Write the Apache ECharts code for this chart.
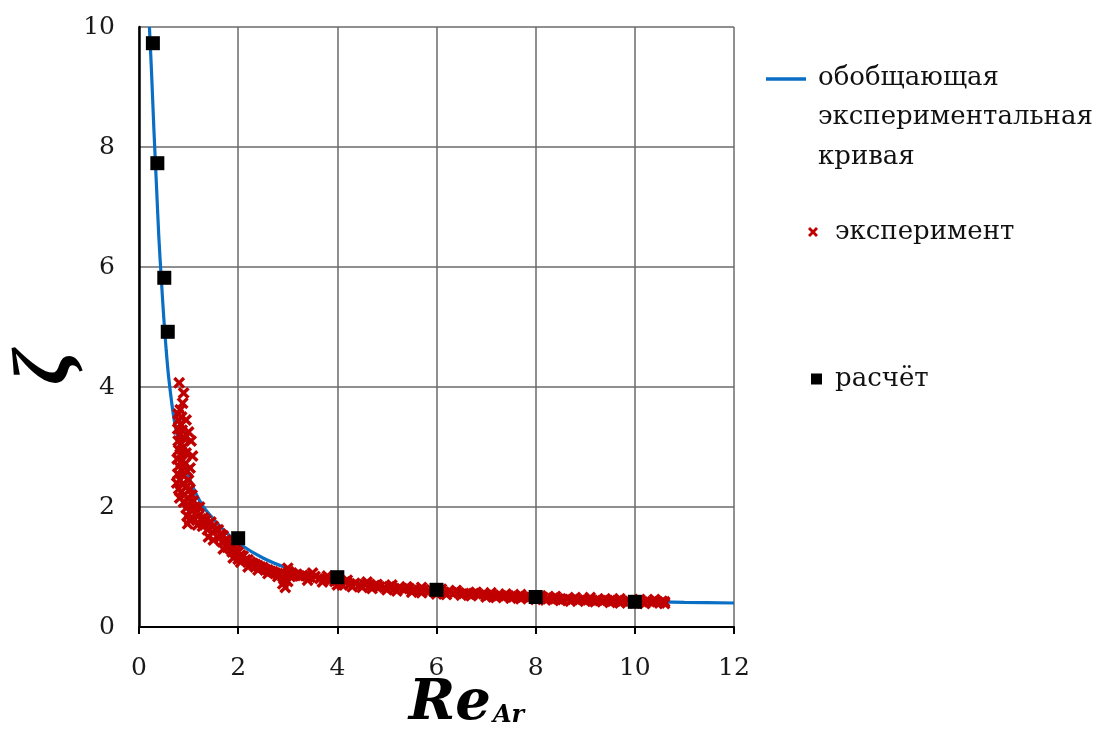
<!DOCTYPE html>
<html>
<head>
<meta charset="utf-8">
<script src="https://cdn.jsdelivr.net/npm/echarts@6/dist/echarts.min.js"></script>
<style>
html,body{margin:0;padding:0;background:#fff;}
#chart{width:1099px;height:749px;}
</style>
</head>
<body>
<div id="chart"></div>
<script>
// ---- data ----
const seriesNames = ['обобщающая\nэкспериментальная\nкривая', 'эксперимент', 'расчёт'];
const xTicks = [0, 2, 4, 6, 8, 10, 12];
const yTicks = [0, 2, 4, 6, 8, 10];

const curvePoints = [
  [0.21,10],[0.25,9.3],[0.30,8.3],[0.35,7.4],[0.40,6.5],[0.45,5.8],[0.50,5.15],[0.55,4.6],
  [0.60,4.15],[0.70,3.5],[0.80,3.08],[0.90,2.77],[1.0,2.52],[1.15,2.22],[1.3,2.0],[1.5,1.8],
  [1.75,1.58],[2.0,1.4],[2.5,1.15],[3.0,0.98],[3.5,0.87],[4.0,0.79],[5.0,0.67],[6.0,0.59],
  [7.0,0.53],[8.0,0.49],[9.0,0.45],[10.0,0.43],[11.0,0.41],[12.0,0.40]
];

// experiment (red crosses)
const expPoints = [
  [0.81,4.07],[0.90,3.90],[0.88,3.73],[0.83,3.62],[0.79,3.55],[0.86,3.50],[0.80,3.45],[0.95,3.45],
  [0.84,3.38],[0.78,3.30],[0.87,3.28],[1.00,3.25],[0.82,3.20],[0.92,3.15],[1.05,3.10],[0.79,3.10],
  [0.85,3.05],[0.90,3.00],[0.80,2.95],[0.95,2.90],[0.83,2.88],[1.08,2.85],[0.77,2.80],[0.88,2.78],
  [0.93,2.72],[0.80,2.68],[1.03,2.65],[0.85,2.62],[0.97,2.60],[0.78,2.55],[0.90,2.52],[0.83,2.45],
  [1.00,2.45],[0.76,2.40],[0.88,2.38],[0.95,2.33],[0.80,2.30],[1.03,2.30],[0.85,2.25],[0.92,2.20],
  [1.07,2.20],[0.98,2.15],[0.82,2.15],[0.90,2.08],[1.10,2.10],[1.00,2.05],[0.95,1.98],[1.13,2.00],
  [1.05,1.95],[0.97,1.85],[1.15,1.90],[1.02,1.78],[1.08,1.82],[0.98,1.72],
  [1.20,1.85],[1.22,2.00],[1.25,1.80],[1.18,1.70],[1.30,1.82],[1.35,1.78],[1.28,1.68],[1.40,1.72],
  [1.45,1.75],[1.38,1.62],[1.50,1.68],[1.55,1.62],[1.48,1.58],[1.60,1.62],[1.65,1.55],[1.62,1.48],
  [1.70,1.52],[1.75,1.45],[1.68,1.42],[1.80,1.42],[1.85,1.36],[1.78,1.33],[1.90,1.32],[1.95,1.28],
  [1.88,1.25],[2.00,1.25],[2.05,1.20],[2.00,1.13],[2.10,1.18],[2.15,1.12],[2.20,1.12],[2.25,1.08],
  [2.30,1.06],[2.35,1.04],[2.40,1.02],[2.45,1.00],[2.50,0.99],[2.55,0.96],[2.60,0.95],[2.65,0.93],
  [2.70,0.92],[2.75,0.90],[2.80,0.89],[2.85,0.88],[2.90,0.72],[2.92,0.80],[2.95,0.66],[2.97,0.86],
  [3.00,0.76],[3.00,0.98],[3.02,0.92],[3.05,0.84],[3.08,0.90],[3.12,0.86],[3.18,0.88],[3.24,0.85],
  [3.30,0.86],
  [1.40,1.50],[1.50,1.45],[1.70,1.30],[1.90,1.15],[2.05,1.08],[2.20,1.00],[2.40,0.95],[2.60,0.89],
  [2.80,0.84],
  [3.35,0.86],[3.45,0.83],[3.55,0.84],[3.65,0.81],[3.75,0.80],[3.85,0.78],[3.95,0.76],[4.05,0.74],
  [4.10,0.70],[4.15,0.75],[4.25,0.72],[4.35,0.73],[4.45,0.70],[4.55,0.71],[4.65,0.68],[4.75,0.69],
  [4.85,0.67],[4.95,0.66],[5.05,0.67],[5.15,0.64],[5.25,0.65],[5.35,0.63],[5.45,0.64],[5.55,0.62],
  [5.65,0.61],[5.75,0.62],[5.85,0.60],[5.95,0.59],[6.05,0.60],[6.15,0.58],[6.25,0.59],[6.35,0.57],
  [6.45,0.57],[6.55,0.56],[6.65,0.55],[6.75,0.56],[6.85,0.54],[6.95,0.55],[7.05,0.53],[7.15,0.53],
  [7.25,0.52],[7.35,0.51],[7.45,0.52],[7.55,0.50],[7.65,0.51],[7.75,0.50],[7.85,0.49],[7.95,0.50],
  [8.05,0.48],[8.15,0.49],[8.25,0.47],[8.35,0.48],[8.45,0.47],[8.55,0.46],[8.65,0.47],[8.75,0.46],
  [8.85,0.45],[8.95,0.46],[9.05,0.45],[9.15,0.44],[9.25,0.45],[9.35,0.44],[9.45,0.44],[9.55,0.43],
  [9.65,0.44],[9.75,0.43],[9.85,0.43],[9.95,0.42],[10.05,0.43],[10.15,0.42],[10.25,0.43],[10.35,0.42],
  [10.45,0.42],[10.55,0.43],[10.60,0.42],
  [4.00,0.70],[4.50,0.66],[5.00,0.62],[5.50,0.58],[6.00,0.55],[6.50,0.53],[7.00,0.50],[7.50,0.48],
  [8.00,0.46],[8.50,0.44],[9.00,0.43],[9.50,0.41],[10.00,0.40],[10.50,0.40],
  [4.20,0.78],[4.80,0.71],[5.40,0.67],[6.10,0.63],[6.80,0.58],[7.40,0.55],[8.10,0.52],[8.80,0.49],
  [9.40,0.47],[10.10,0.46],
  [3.40,0.78],[3.70,0.75],[4.30,0.67],[4.70,0.64],[5.20,0.60],[5.70,0.57],[6.20,0.54],[6.70,0.52],
  [7.20,0.49],[7.70,0.47],[8.20,0.45],[8.70,0.43],[9.20,0.42],[9.70,0.40],[10.20,0.39],[10.60,0.39],
  [3.50,0.90],[3.80,0.85],[4.60,0.75],[5.10,0.70],[5.70,0.66],[6.40,0.61],[7.10,0.57],[7.70,0.54],
  [8.40,0.51],[9.10,0.49],[9.70,0.47],[10.40,0.46]
];

// calculation (black squares)
const calcPoints = [
  [0.28,9.73],[0.37,7.73],[0.51,5.82],[0.58,4.92],[2,1.48],[4,0.83],[6,0.62],[8,0.50],[10,0.42]
];

// ---- chart ----
const chart = echarts.init(document.getElementById('chart'));
const serif = 'DejaVu Serif';
const crossPath = 'path://M2,0 L5,3 L8,0 L10,2 L7,5 L10,8 L8,10 L5,7 L2,10 L0,8 L3,5 L0,2 Z';
// legend line icon: a bar at the top of a tall box (tiny dot marks the bottom)
const legendLineIcon = 'path://M0,0 L40,0 L40,3.5 L0,3.5 Z M20,79.9 L20.05,79.9 L20.05,80 L20,80 Z';

const option = {
  backgroundColor: '#ffffff',
  animation: false,
  grid: { left: 139, right: 365, top: 27, bottom: 122, containLabel: false, outerBoundsMode: 'none' },
  xAxis: {
    type: 'value', min: xTicks[0], max: xTicks[xTicks.length - 1], interval: 2,
    name: '{a|Re}{b|Ar}',
    nameLocation: 'middle', nameGap: 49, nameMoveOverlap: false,
    nameTextStyle: {
      padding: [0, 0, 0, 60],
      rich: {
        a: { fontFamily: serif, fontWeight: 'bold', fontStyle: 'italic', fontSize: 56, color: '#000' },
        b: { fontFamily: serif, fontWeight: 'bold', fontStyle: 'italic', fontSize: 24, color: '#000', padding: [24, 0, 0, 2] }
      }
    },
    axisLine: { lineStyle: { color: '#000', width: 2 } },
    axisTick: { show: true, length: 7, lineStyle: { color: '#000', width: 2 } },
    axisLabel: { margin: 29, fontFamily: serif, fontSize: 25, color: '#1a1a1a' },
    splitLine: { show: true, lineStyle: { color: '#6a6a6a', width: 1.5 } }
  },
  yAxis: {
    type: 'value', min: yTicks[0], max: yTicks[yTicks.length - 1], interval: 2,
    name: 'ζ', nameLocation: 'middle', nameRotate: 90, nameGap: 52, nameMoveOverlap: false,
    nameTextStyle: { fontFamily: 'Liberation Serif', fontWeight: 'bold', fontStyle: 'italic', fontSize: 80, color: '#000', padding: [0, 80, 0, 0] },
    axisLine: { show: true, lineStyle: { color: '#000', width: 2.5 } },
    axisTick: { show: false },
    axisLabel: { margin: 24, fontFamily: serif, fontSize: 25, color: '#1a1a1a' },
    splitLine: { show: true, lineStyle: { color: '#6a6a6a', width: 1.5 } }
  },
  legend: [
    {
      data: [{ name: seriesNames[0], icon: legendLineIcon }], orient: 'vertical', left: 766, top: 58, padding: 0,
      itemWidth: 40, itemHeight: 80, symbolKeepAspect: false,
      itemStyle: { color: '#0a6fc4' },
      textStyle: { fontFamily: serif, fontSize: 26, color: '#111', lineHeight: 39.5, padding: [0, 0, 0, 7] }
    },
    {
      data: [seriesNames[1]], orient: 'vertical', left: 808, top: 219, padding: 0,
      itemWidth: 10, itemHeight: 10,
      textStyle: { fontFamily: serif, fontSize: 26, color: '#111', padding: [0, 0, 0, 12] }
    },
    {
      data: [seriesNames[2]], orient: 'vertical', left: 811, top: 366, padding: 0,
      itemWidth: 11, itemHeight: 11,
      textStyle: { fontFamily: serif, fontSize: 26, color: '#111', padding: [0, 0, 0, 8] }
    }
  ],
  series: [
    {
      name: seriesNames[0], type: 'line', data: curvePoints,
      smooth: 0.3, symbol: 'none', showSymbol: false,
      lineStyle: { color: '#0a6fc4', width: 3.2 }, itemStyle: { color: '#0a6fc4' }, z: 2
    },
    {
      name: seriesNames[1], type: 'scatter', data: expPoints,
      symbol: crossPath, symbolSize: 12,
      itemStyle: { color: '#c00000', opacity: 1 }, z: 3
    },
    {
      name: seriesNames[2], type: 'scatter', data: calcPoints,
      symbol: 'rect', symbolSize: 14,
      itemStyle: { color: '#000', opacity: 1 }, z: 4
    }
  ]
};
chart.setOption(option);
</script>
</body>
</html>
